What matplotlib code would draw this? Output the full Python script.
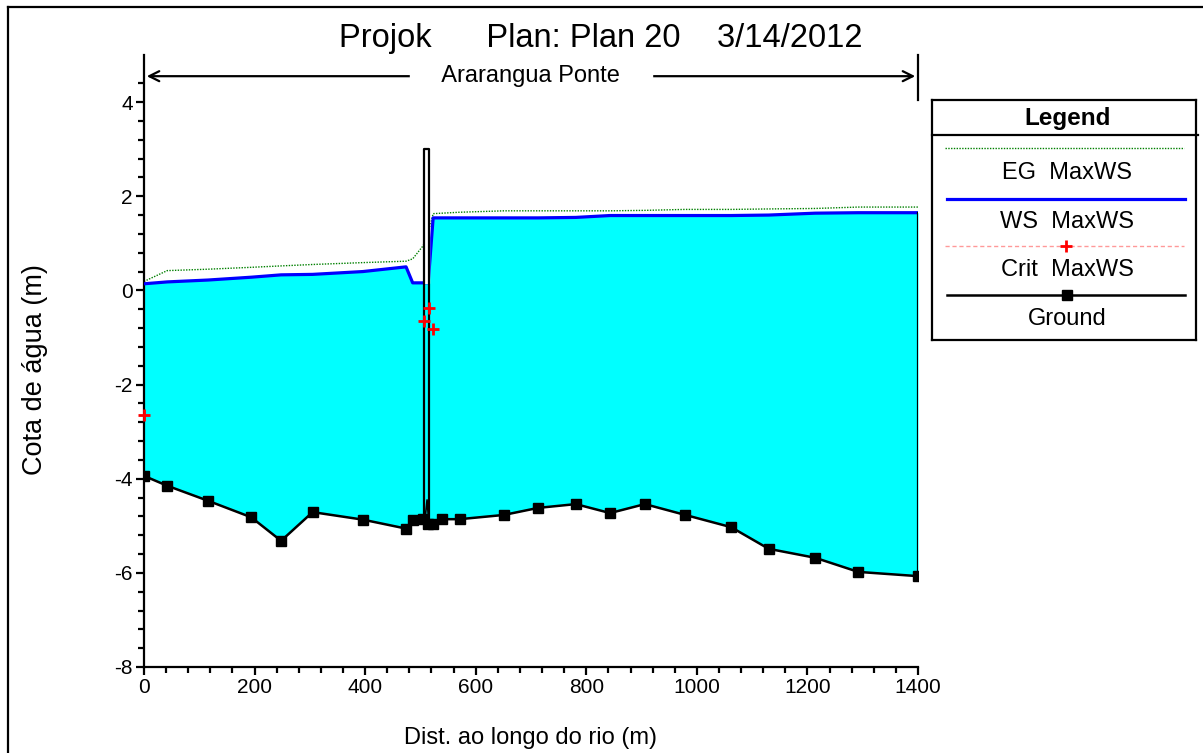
import numpy as np
import matplotlib
matplotlib.use("Agg")
import matplotlib.pyplot as plt
from matplotlib.lines import Line2D

plt.rcParams['font.family'] = ['Liberation Sans', 'DejaVu Sans']
plt.rcParams['axes.unicode_minus'] = False

dist = [0, 42, 116, 194, 248, 305, 396, 474, 486, 505, 514, 523, 539, 571,
        651, 713, 781, 843, 906, 979, 1062, 1130, 1214, 1292, 1400]
ground = [-3.94, -4.15, -4.47, -4.82, -5.32, -4.71, -4.87, -5.06, -4.87, -4.86,
          -4.96, -4.96, -4.86, -4.86, -4.77, -4.62, -4.54, -4.73, -4.54, -4.77,
          -5.03, -5.49, -5.68, -5.98, -6.07]
ws = [0.14, 0.18, 0.22, 0.28, 0.33, 0.34, 0.40, 0.50, 0.16, 0.16,
      0.16, 1.54, 1.54, 1.54, 1.54, 1.54, 1.55, 1.59, 1.59, 1.59,
      1.59, 1.60, 1.64, 1.65, 1.65]
eg = [0.19, 0.42, 0.45, 0.49, 0.52, 0.55, 0.59, 0.62, 0.67, 0.95,
      1.22, 1.63, 1.64, 1.66, 1.69, 1.69, 1.69, 1.69, 1.70, 1.72,
      1.72, 1.73, 1.74, 1.77, 1.77]
crit_x = [0, 507, 516, 523]
crit_y = [-2.64, -0.66, -0.37, -0.81]

# ponte
ponte_x = [507, 507, 516, 516]
ponte_y = [-4.9, 3.0, 3.0, -4.9]
ponte_ws = 0.16
pico_x = [508, 512, 515]
pico_y = [-4.9, -4.45, -4.9]

titulo = "Projok      Plan: Plan 20    3/14/2012"
trecho = "Ararangua Ponte"
trecho_ini, trecho_fim = 0, 1400

W, H = 1203, 753
fig = plt.figure(figsize=(W / 100, H / 100), dpi=100)


def caixa(x0, y0, x1, y1):
    # pixels -> fração da figura
    return [x0 / W, 1 - y1 / H, (x1 - x0) / W, (y1 - y0) / H]


ax = fig.add_axes(caixa(144, 55, 918, 667))
ax.set_xlim(0, 1400)
ax.set_ylim(-8, 5)

ax.fill_between(dist, ground, ws, color='#00FFFF', lw=0, zorder=1)
ax.plot(dist, eg, color='#008000', lw=1, ls=(0, (1, 1)), zorder=2)
ax.plot(dist, ws, color='#0000FF', lw=2.3, zorder=3)
ax.fill_between([ponte_x[0], ponte_x[2]], ponte_ws, ponte_y[1], color='white', zorder=3.5)
ax.plot(ponte_x, ponte_y, color='black', lw=1.6, zorder=4, solid_joinstyle='round')
ax.plot(pico_x, pico_y, color='black', lw=1.2, zorder=4)
ax.plot([dist[-1], dist[-1]], [ground[-1], ws[-1]], color='black', lw=1.6, zorder=4)
ax.plot(dist, ground, color='black', lw=1.8, marker='s', ms=7.5, zorder=5)
ax.plot(crit_x, crit_y, ls='none', marker='+', color='red', ms=9, mew=2, zorder=6,
        clip_on=False)

# eixos
for s in ['top', 'right']:
    ax.spines[s].set_visible(False)
for s in ['left', 'bottom']:
    ax.spines[s].set_linewidth(1.6)
ax.set_xticks(np.arange(0, 1401, 200))
ax.set_xticks(np.arange(0, 1401, 40), minor=True)
ax.set_yticks(np.arange(-8, 5, 2))
ax.set_yticks(np.arange(-8, 4.5, 0.4), minor=True)
ax.tick_params(which='major', length=6, width=1.6, labelsize=15, pad=2)
ax.tick_params(which='minor', length=4.5, width=1.6)

# faixa do trecho
ax.annotate('', xy=(trecho_ini, 4.55), xytext=(trecho_fim, 4.55),
            arrowprops=dict(arrowstyle='<->', lw=1.6, color='black',
                            mutation_scale=18), annotation_clip=False)
ax.plot([trecho_fim, trecho_fim], [4.05, 5.0], color='black', lw=1.6, clip_on=False)
ax.text((trecho_ini + trecho_fim) / 2, 4.55, "    " + trecho + "    ", ha='center',
        va='center', fontsize=17, backgroundcolor='white', zorder=7)

fig.text(601 / W, 1 - 39 / H, titulo, ha='center', va='center', fontsize=23.5)
fig.text(35 / W, 1 - 370 / H, "Cota de água (m)", rotation=90, ha='center',
         va='center', fontsize=19.5)
fig.text(531 / W, 1 - 738 / H, "Dist. ao longo do rio (m)", ha='center',
         va='center', fontsize=17)

# moldura
fig.add_artist(Line2D([8 / W, 1], [1 - 7 / H, 1 - 7 / H], color='black', lw=1.6))
fig.add_artist(Line2D([8 / W, 8 / W], [0, 1 - 7 / H], color='black', lw=1.6))

# legenda
lg = fig.add_axes(caixa(932, 100, 1196, 340))
lg.set_xlim(0, 264)
lg.set_ylim(240, 0)
lg.set_xticks([])
lg.set_yticks([])
for s in lg.spines.values():
    s.set_linewidth(1.6)
lg.plot([0, 266], [35, 35], color='black', lw=1.6, clip_on=False)
lg.text(136, 18, "Legend", ha='center', va='center', fontsize=17.5, fontweight='bold')
lg.plot([13, 252], [48, 48], color='#008000', lw=1, ls=(0, (1, 1)))
lg.text(135, 73, "EG  MaxWS", ha='center', va='center', fontsize=17)
lg.plot([15, 253], [99, 99], color='#0000FF', lw=2.3)
lg.text(135, 122, "WS  MaxWS", ha='center', va='center', fontsize=17)
lg.plot([13, 252], [146, 146], color='#FF9999', lw=1, ls=(0, (3, 2)))
lg.plot([134], [146], ls='none', marker='+', color='red', ms=9, mew=2)
lg.text(135, 170, "Crit  MaxWS", ha='center', va='center', fontsize=17)
lg.plot([15, 253], [195, 195], color='black', lw=1.8)
lg.plot([135], [195], ls='none', marker='s', color='black', ms=7.5)
lg.text(135, 219, "Ground", ha='center', va='center', fontsize=17)

fig.savefig("out.png", dpi=100)
